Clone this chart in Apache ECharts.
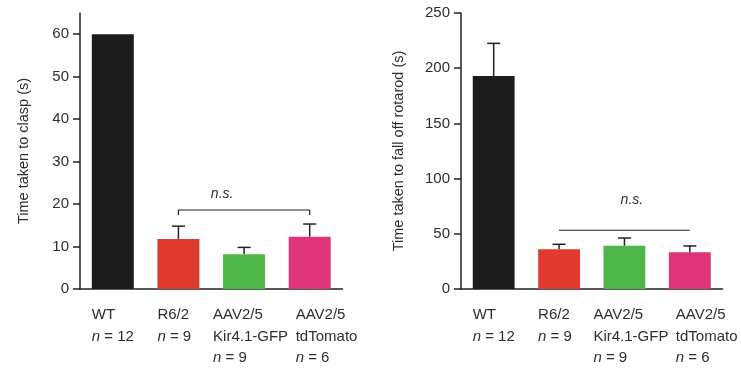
<!DOCTYPE html>
<html><head><meta charset="utf-8">
<script src="https://cdn.jsdelivr.net/npm/echarts@6/dist/echarts.min.js"></script>
<style>html,body{margin:0;padding:0;background:#fff}#c{width:741px;height:371px}</style>
</head><body><div id="c"></div>
<script>
// ---- data ----
var categories = ['WT', 'R6/2', 'AAV2/5\nKir4.1-GFP', 'AAV2/5\ntdTomato'];
var groupN = [12, 9, 9, 6];
var claspMean = [60, 11.8, 8.2, 12.3];
var claspErr = [0, 3.0, 1.6, 3.0];
var rotarodMean = [193, 36, 39.2, 33.2];
var rotarodErr = [29.5, 4.5, 7.0, 5.8];
var claspTicks = [0, 10, 20, 30, 40, 50, 60];
var rotarodTicks = [0, 50, 100, 150, 200, 250];
var claspBracket = {from: 1, to: 3, y: 18.6, leg: 17.4, label: 'n.s.', labelY: 22.4};
var rotarodBracket = {from: 1, to: 3, y: 53.2, leg: null, label: 'n.s.', labelY: 80.6};

// ---- style ----
var colors = ['#1c1c1e', '#df3a30', '#4fb748', '#df347a'];
var labelOffsets = [-21, -21, -31, -14];
var axisColor = '#222';
var textColor = '#2e2e2e';
var FONT = '"Liberation Sans", Arial, sans-serif';

var chart = echarts.init(document.getElementById('c'));

function barSeries(idx, vals) {
  return {
    type: 'bar', xAxisIndex: idx, yAxisIndex: idx, barWidth: '64%',
    data: vals.map(function (v, i) { return {value: v, itemStyle: {color: colors[i]}}; }),
    silent: true, z: 2
  };
}
function errSeries(idx, means, errs) {
  return {
    type: 'custom', xAxisIndex: idx, yAxisIndex: idx, z: 1, silent: true,
    data: means.map(function (m, i) { return [i, m, m + errs[i]]; }),
    renderItem: function (params, api) {
      if (api.value(2) <= api.value(1)) return null;
      var b = api.coord([api.value(0), api.value(1)]);
      var t = api.coord([api.value(0), api.value(2)]);
      var st = {stroke: axisColor, lineWidth: 1.5};
      return {type: 'group', children: [
        {type: 'line', shape: {x1: b[0], y1: b[1], x2: t[0], y2: t[1]}, style: st},
        {type: 'line', shape: {x1: t[0] - 6.5, y1: t[1], x2: t[0] + 6.5, y2: t[1]}, style: st}
      ]};
    }
  };
}
function bracketSeries(idx, br, tFrac) {
  return {
    type: 'custom', xAxisIndex: idx, yAxisIndex: idx, silent: true, z: 3,
    data: [[br.from, br.to, br.y, br.leg == null ? br.y : br.leg, br.labelY]],
    renderItem: function (params, api) {
      var a = api.coord([api.value(0), api.value(2)]);
      var b = api.coord([api.value(1), api.value(2)]);
      var la = api.coord([api.value(0), api.value(3)]);
      var lb = api.coord([api.value(1), api.value(3)]);
      var ly = api.coord([api.value(0), api.value(4)])[1];
      var st = {stroke: axisColor, lineWidth: 1.2, fill: null};
      return {type: 'group', children: [
        {type: 'polyline', shape: {points: [[la[0], la[1]], a, b, [lb[0], lb[1]]]}, style: st},
        {type: 'text', x: a[0] + (b[0] - a[0]) * tFrac, y: ly,
          style: {text: br.label, font: 'italic 14px ' + FONT, fill: textColor, align: 'center', verticalAlign: 'middle'}}
      ]};
    }
  };
}
function labelSeries(idx) {
  return {
    type: 'custom', xAxisIndex: idx, yAxisIndex: idx, silent: true, z: 3,
    data: categories.map(function (c, i) { return [i, 0]; }),
    renderItem: function (params, api) {
      var i = api.value(0);
      var p = api.coord([i, 0]);
      var txt = categories[i] + '\n{i|n} = ' + groupN[i];
      return {type: 'text', x: p[0] + labelOffsets[i], y: p[1] + 15,
        style: {text: txt, font: '15px ' + FONT, fill: textColor, align: 'left', verticalAlign: 'top',
          lineHeight: 21.7, rich: {i: {fontStyle: 'italic', font: 'italic 15px ' + FONT, fill: textColor, lineHeight: 21.7}}}};
    }
  };
}
function xAx(idx) {
  return {type: 'category', gridIndex: idx, data: categories,
    axisLine: {lineStyle: {color: axisColor, width: 1.5}}, axisTick: {show: false}, axisLabel: {show: false}};
}
function yAx(idx, min, max, ticks, name, gap) {
  return {type: 'value', gridIndex: idx, min: min, max: max, interval: ticks[1] - ticks[0],
    name: name, nameLocation: 'middle', nameGap: gap,
    nameTextStyle: {fontFamily: FONT, fontSize: 14.5, color: textColor},
    splitLine: {show: false},
    axisLine: {show: true, lineStyle: {color: axisColor, width: 1.5}},
    axisTick: {show: true, length: 7, lineStyle: {color: axisColor, width: 1.5}, customValues: ticks},
    axisLabel: {fontFamily: FONT, fontSize: 15, color: textColor, margin: 11, customValues: ticks}
  };
}

chart.setOption({
  animation: false,
  grid: [
    {left: 80, right: 398.5, top: 13, bottom: 82},
    {left: 461, right: 18.5, top: 13, bottom: 82}
  ],
  xAxis: [xAx(0), xAx(1)],
  yAxis: [
    yAx(0, 0, 65, claspTicks, 'Time taken to clasp (s)', 49),
    yAx(1, 0, 250, rotarodTicks, 'Time taken to fall off rotarod (s)', 55)
  ],
  series: [
    barSeries(0, claspMean), errSeries(0, claspMean, claspErr), bracketSeries(0, claspBracket, 0.333), labelSeries(0),
    barSeries(1, rotarodMean), errSeries(1, rotarodMean, rotarodErr), bracketSeries(1, rotarodBracket, 0.557), labelSeries(1)
  ]
});
</script></body></html>
